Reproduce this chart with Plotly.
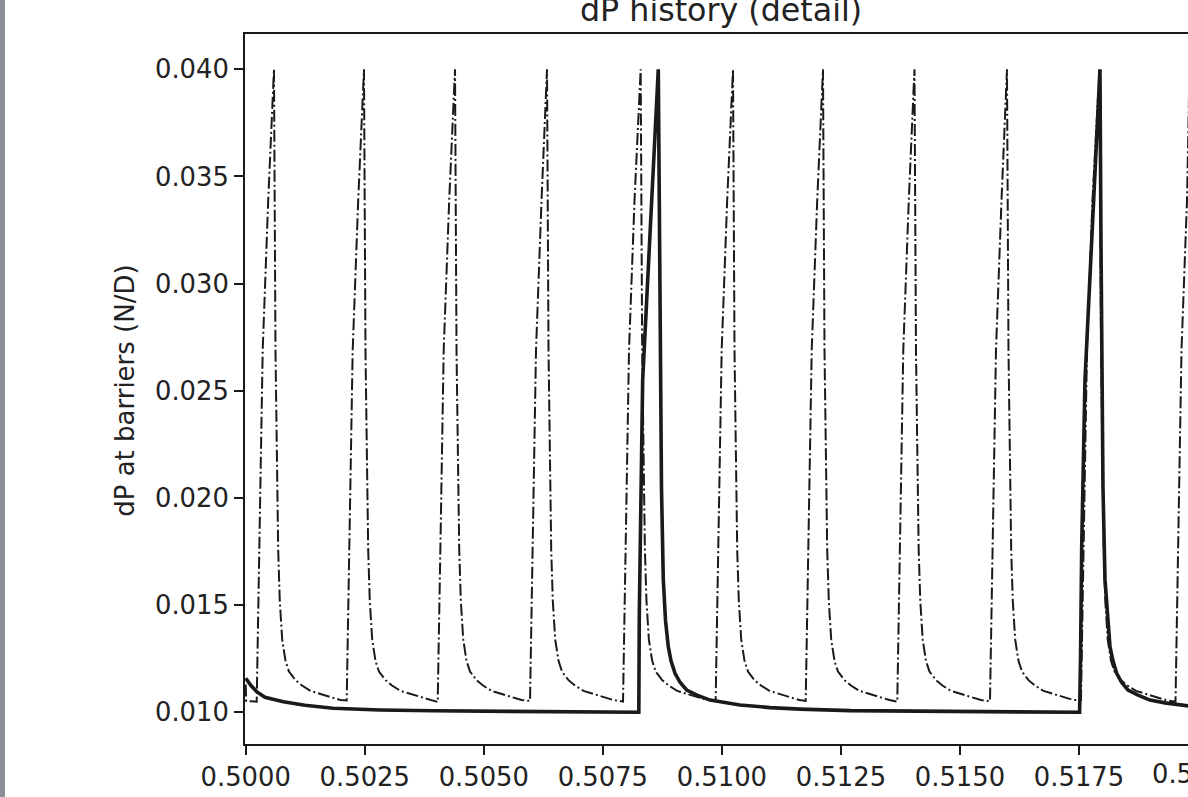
import plotly.graph_objects as go

# ---------------- data ----------------
# solid (thick) series: time, dP
solid_t = [0.500000, 0.500111, 0.500231, 0.500405, 0.500790, 0.501245, 0.501833,
           0.502820, 0.503934, 0.505971, 0.508211, 0.508256,
           0.508266, 0.508308, 0.508337, 0.508665,
           0.508686, 0.508711, 0.508732, 0.508770, 0.508816, 0.508875, 0.508932,
           0.509016, 0.509121, 0.509261, 0.509478, 0.509751, 0.510066, 0.510381,
           0.511011, 0.511641, 0.512691, 0.514791, 0.516891, 0.517513,
           0.517532, 0.517557, 0.517626, 0.517941,
           0.517962, 0.517977, 0.518004, 0.518046, 0.518099, 0.518151, 0.518214,
           0.518292, 0.518393, 0.518530, 0.518740, 0.518991, 0.519306, 0.519621,
           0.519936]
solid_val = [0.01159, 0.01125, 0.01096, 0.01070, 0.01049, 0.01033, 0.01019,
             0.01011, 0.01007, 0.01004, 0.01002, 0.01000,
             0.01460, 0.02080, 0.02550, 0.04000,
             0.03200, 0.02550, 0.02050, 0.01620, 0.01430, 0.01306, 0.01240,
             0.01182, 0.01140, 0.01104, 0.01080, 0.01057, 0.01044, 0.01034,
             0.01022, 0.01015, 0.01008, 0.01004, 0.01001, 0.01000,
             0.01250, 0.01770, 0.02550, 0.04000,
             0.03200, 0.02550, 0.02050, 0.01620, 0.01430, 0.01306, 0.01240,
             0.01182, 0.01140, 0.01104, 0.01080, 0.01057, 0.01044, 0.01034,
             0.01026]

# dash-dot series: start, reset instants, peaks and the read rise / decay profile
dash_start_t = [0.500000, 0.500010]
dash_start_val = [0.01130, 0.01053]
dash_reset_t = [0.500231, 0.502121, 0.504032, 0.505971, 0.507924, 0.509870,
                0.511761, 0.513684, 0.515631, 0.517542, 0.519527]
dash_reset_val = [0.01050, 0.01055, 0.01048, 0.01053, 0.01050, 0.01057,
                  0.01053, 0.01050, 0.01052, 0.01057, 0.01049]
dash_peak_t = [0.500594, 0.502484, 0.504396, 0.506328, 0.508295, 0.510234,
               0.512124, 0.514045, 0.515988, 0.517931, 0.519821]
dash_peak_val = [0.0400, 0.0400, 0.0400, 0.0400, 0.0400, 0.0400,
                 0.0400, 0.0400, 0.0400, 0.0400, 0.0400]
rise_dt = [0.000063, 0.000126, 0.000242]
rise_val = [0.0185, 0.0269, 0.0339]
decay_dt = [0.0000315, 0.000063, 0.0000882, 0.0001218, 0.0001722, 0.0002415,
            0.000315, 0.0004515, 0.000588, 0.0007665, 0.00105, 0.0013965]
decay_val = [0.0269, 0.0215, 0.0176, 0.0152, 0.0134, 0.0124,
             0.0119, 0.0115, 0.01125, 0.0110, 0.0108, 0.01057]

x_ticks = [0.5000, 0.5025, 0.5050, 0.5075, 0.5100, 0.5125, 0.5150, 0.5175]
x_ticktext = ["0.5000", "0.5025", "0.5050", "0.5075", "0.5100", "0.5125", "0.5150", "0.5175"]
y_ticks = [0.010, 0.015, 0.020, 0.025, 0.030, 0.035, 0.040]
y_ticktext = ["0.010", "0.015", "0.020", "0.025", "0.030", "0.035", "0.040"]

# ---------------- assemble dash-dot series ----------------
dash_x = list(dash_start_t)
dash_y = list(dash_start_val)
n = len(dash_reset_t)
for i in range(n):
    r, p = dash_reset_t[i], dash_peak_t[i]
    dash_x.append(r); dash_y.append(dash_reset_val[i])
    for dt, v in zip(rise_dt, rise_val):
        if r + dt < p:
            dash_x.append(r + dt); dash_y.append(v)
    dash_x.append(p); dash_y.append(dash_peak_val[i])
    nxt = dash_reset_t[i + 1] if i + 1 < n else None
    for dt, v in zip(decay_dt, decay_val):
        if nxt is None or p + dt < nxt:
            dash_x.append(p + dt); dash_y.append(v)

INK = "#1a1a1a"
FONT = "DejaVu Sans"

fig = go.Figure()
fig.add_trace(go.Scatter(x=dash_x, y=dash_y, mode="lines",
                         line=dict(color=INK, width=2.0, dash="12px,3px,2px,3px"),
                         hoverinfo="skip"))
fig.add_trace(go.Scatter(x=solid_t, y=solid_val, mode="lines",
                         line=dict(color=INK, width=3.6), hoverinfo="skip"))

W, H = 1188, 797
L, R, T, B = 245, 0, 34, 53
px_per_x = 119.04 / 0.0025
x0 = 0.5 - 0.7 / px_per_x
x1 = 0.5 + (W - 245.7) / px_per_x

fig.update_layout(
    width=W, height=H, margin=dict(l=L, r=R, t=T, b=B, pad=0),
    paper_bgcolor="white", plot_bgcolor="white", showlegend=False,
    font=dict(family=FONT, color="#222222", size=26),
)
fig.update_xaxes(range=[x0, x1], tickmode="array", tickvals=x_ticks, ticktext=x_ticktext,
                 ticks="outside", ticklen=9, tickwidth=2, tickcolor=INK,
                 showline=True, linewidth=2, linecolor=INK, mirror=True,
                 showgrid=False, zeroline=False, tickfont=dict(size=25.8, family=FONT))
fig.update_yaxes(range=[0.008521, 0.041647], tickmode="array", tickvals=y_ticks, ticktext=y_ticktext,
                 ticks="outside", ticklen=9, tickwidth=2, tickcolor=INK,
                 showline=True, linewidth=2, linecolor=INK, mirror=False,
                 showgrid=False, zeroline=False, tickfont=dict(size=25.8, family=FONT))

plot_w = W - L - R
plot_h = H - T - B
def px(xp):
    return (xp - L) / plot_w
def py(yp):
    return (H - B - yp) / plot_h

fig.add_annotation(text="dP history (detail)", xref="paper", yref="paper",
                   x=px(721), y=py(9.7), xanchor="center", yanchor="middle",
                   showarrow=False, font=dict(size=31.7, family=FONT, color="#222222"))
fig.add_annotation(text="dP at barriers (N/D)", xref="paper", yref="paper",
                   x=px(125), y=py(390.8), xanchor="center", yanchor="middle", textangle=-90,
                   showarrow=False, font=dict(size=26, family=FONT, color="#222222"))
fig.add_annotation(text="0.5200", xref="paper", yref="paper",
                   x=px(1197.3), y=py(774), xanchor="center", yanchor="middle",
                   showarrow=False, font=dict(size=25.8, family=FONT, color="#222222"))
fig.add_shape(type="rect", xref="paper", yref="paper", x0=px(0), x1=px(5), y0=py(H), y1=py(0),
              fillcolor="#8b9099", line=dict(width=0), layer="above")

fig.write_html("out.html", config={"displayModeBar": False},
               post_script="document.body.style.margin='0px';"
                           "document.body.style.overflow='hidden';")
